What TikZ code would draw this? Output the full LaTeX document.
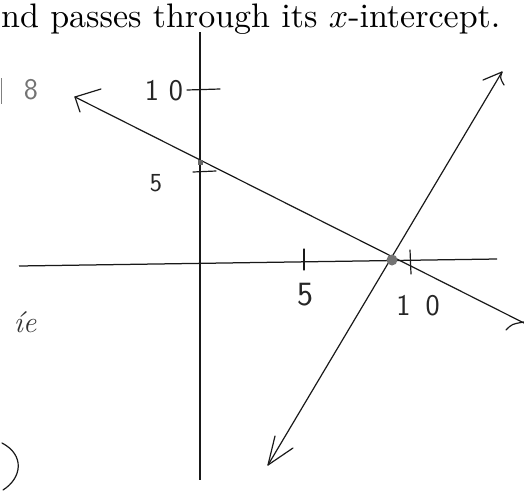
\documentclass[tikz,border=0pt]{standalone}
\begin{document}
\begin{tikzpicture}[x=1pt,y=-1pt,
  pen/.style={draw=black!90,line width=1.2pt,line cap=round,line join=round},
  axis/.style={draw=black!90,line width=1.25pt},
  hand/.style={font=\sffamily\fontsize{30}{30}\selectfont,text=black!85,inner sep=0pt},
  faint/.style={font=\sffamily\fontsize{30}{30}\selectfont,text=black!55,inner sep=0pt}]
\useasboundingbox (0,0) rectangle (524,493);
% heading
\node[anchor=base west,inner sep=0pt] (title) at (1,27) {\scalebox{3.4}{nd passes through its $x$-intercept.}};
% axes
\coordinate (xl) at (19,266);
\coordinate (xr) at (497,259);
\coordinate (yt) at (200,32);
\coordinate (yb) at (200,480);
\draw[axis] (xl) -- (xr);
\draw[axis] (yt) -- (yb);
% ticks
\coordinate (t10a) at (187,90); \coordinate (t10b) at (220,89);
\coordinate (t5a) at (193,172); \coordinate (t5b) at (216,171);
\coordinate (x5a) at (304,249); \coordinate (x5b) at (304,270);
\coordinate (x10a) at (410,250); \coordinate (x10b) at (411,274);
\draw[pen] (t10a) -- (t10b);
\draw[pen] (t5a) -- (t5b);
\draw[pen] (x5a) -- (x5b);
\draw[pen] (x10a) -- (x10b);
% labels
\node[hand] (l10y) at (164,91) {1\,\,0};
\node[hand,font=\sffamily\fontsize{26}{26}\selectfont] (l5y) at (156,183) {5};
\node[hand,font=\sffamily\fontsize{34}{34}\selectfont] (l5x) at (305,295) {5};
\node[hand] (l10x) at (418,306) {1\,\,\,0};
% line 1 (decreasing)
\coordinate (a1) at (75,97);
\coordinate (a2) at (524,323);
\draw[pen] (a1) -- (a2);
\coordinate (a1u) at (101,89); \coordinate (a1d) at (80,112);
\draw[pen] (a1u) -- (a1) -- (a1d);
\coordinate (a2l) at (506,330);
\draw[pen] (a2l) .. controls (512,324) .. (524,322);
% line 2 (increasing)
\coordinate (b1) at (268,465);
\coordinate (b2) at (502,72);
\draw[pen] (b1) -- (b2);
\coordinate (b1u) at (275,436); \coordinate (b1r) at (293,448);
\draw[pen] (b1u) -- (b1) -- (b1r);
\coordinate (b2l) at (483,80); \coordinate (b2r) at (504,85);
\draw[pen] (b2l) -- (b2) .. controls (500,78) .. (b2r);
% points
\fill[black!55] (392,260) circle (5.5);
\fill[black!60] (197.5,159.5) rectangle (203,165);
% stray marks at left
\node[faint] (eight) at (31,90) {8};
\coordinate (s1a) at (1,78); \coordinate (s1b) at (1,104);
\draw[draw=black!50,line width=1pt] (s1a) -- (s1b);
\node[font=\itshape\fontsize{30}{30}\selectfont,text=black!80,inner sep=0pt] (ie) at (25,322) {\'{\i}e};
\coordinate (pa) at (2,443); \coordinate (pb) at (3,490);
\draw[pen] (pa) .. controls (25,455) and (22,478) .. (pb);
\end{tikzpicture}
\end{document}
